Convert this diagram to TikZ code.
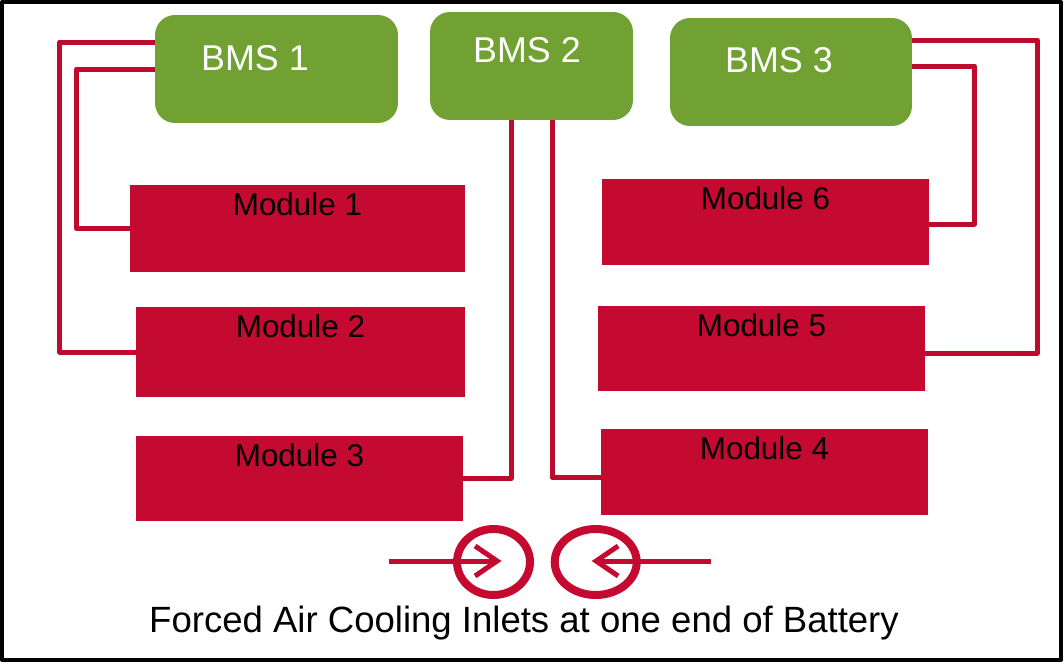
\documentclass[tikz,border=0pt]{standalone}
\usepackage{fontspec}
\setmainfont{Liberation Sans}
\usepackage{tikz}
\usetikzlibrary{arrows.meta,positioning,shapes.geometric,calc}
\definecolor{bmsgreen}{RGB}{114,161,51}
\definecolor{modred}{RGB}{196,10,49}
\definecolor{wirered}{RGB}{190,10,45}

\begin{document}
\begin{tikzpicture}[x=0.02cm,y=-0.02cm,line join=round,
    bms/.style={fill=bmsgreen,rounded corners=0.4cm,inner sep=0pt},
    bmslabel/.style={font=\fontsize{20.4}{24}\selectfont,white,inner sep=0pt},
    module/.style={fill=modred,inner sep=0pt,minimum width=6.54cm},
    modlabel/.style={anchor=north,inner sep=0pt,yshift=-0.16cm,font=\fontsize{17.9}{21}\selectfont},
    wire/.style={wirered,line width=0.1cm},
    inlet/.style={ellipse,draw=modred,line width=0.16cm,inner sep=0pt,minimum height=1.32cm},
    airflow/.style={modred,line width=0.1cm,-{Straight Barb[length=0.44cm,width=0.6cm,line width=0.1cm]}}]
  \useasboundingbox (0,0) rectangle (1064,663);
  % --- frame ---
  \draw[line width=2.3pt] (2,2) rectangle (1061,660);

  % --- battery management units ---
  \node[bms,minimum width=4.86cm,minimum height=2.16cm,
        label={[bmslabel,xshift=-0.43cm,yshift=0.21cm]center:BMS 1}] (bms1) at (276.5,69) {};
  \node[bms,minimum width=4.06cm,minimum height=2.16cm,
        label={[bmslabel,xshift=-0.09cm,yshift=0.32cm]center:BMS 2}] (bms2) at (531.5,66) {};
  \node[bms,minimum width=4.84cm,minimum height=2.16cm,
        label={[bmslabel,xshift=-0.24cm,yshift=0.24cm]center:BMS 3}] (bms3) at (791,72) {};

  % --- modules, left column ---
  \node[module,minimum width=6.7cm,minimum height=1.74cm,
        label={[modlabel]north:Module 1}] (m1) at (297.5,228.5) {};
  \node[module,minimum width=6.58cm,minimum height=1.8cm,
        label={[modlabel]north:Module 2}] (m2) at (300.5,352) {};
  \node[module,minimum height=1.7cm,
        label={[modlabel]north:Module 3}] (m3) at (299.5,478.5) {};
  % --- modules, right column ---
  \node[module,minimum height=1.72cm,
        label={[modlabel]north:Module 6}] (m6) at (765.5,222) {};
  \node[module,minimum height=1.7cm,
        label={[modlabel]north:Module 5}] (m5) at (761.5,348.5) {};
  \node[module,minimum height=1.72cm,
        label={[modlabel]north:Module 4}] (m4) at (764.5,472) {};

  % --- wiring ---
  \draw[wire] ([yshift=0.54cm]bms1.west) -- ++(-95,0) |- (m2.west);
  \draw[wire] (bms1.west) -- ++(-78,0) |- (m1.west);
  \draw[wire] ([yshift=0.64cm]bms3.east) -- ++(125,0) |- ([yshift=-0.09cm]m5.east);
  \draw[wire] ([yshift=0.12cm]bms3.east) -- ++(62,0) |- ([yshift=-0.04cm]m6.east);
  \draw[wire] ([xshift=-0.41cm]bms2.south) |- (m3.east);
  \draw[wire] ([xshift=0.41cm]bms2.south) |- ([yshift=-0.11cm]m4.west);

  % --- air inlets ---
  \node[inlet,minimum width=1.46cm] (inl) at (493.5,562) {};
  \node[inlet,minimum width=1.64cm] (inr) at (595.7,562) {};
  \coordinate (airl) at (389,561);
  \coordinate (airr) at (711,561);
  \draw[airflow] (airl) -- ([xshift=0.16cm,yshift=0.02cm]inl.center);
  \draw[airflow] (airr) -- ([xshift=-0.08cm,yshift=0.02cm]inr.center);

  \node[anchor=base,inner sep=0pt,font=\fontsize{20.8}{25}\selectfont] (cap) at (524,632)
    {Forced Air Cooling Inlets at one end of Battery};
\end{tikzpicture}
\end{document}
